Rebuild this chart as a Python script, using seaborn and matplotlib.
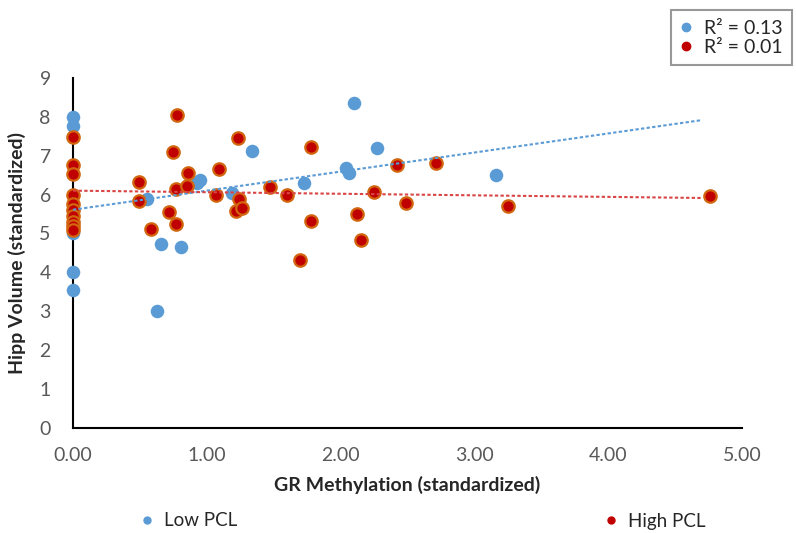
import numpy as np
import pandas as pd
import seaborn as sns
import matplotlib.pyplot as plt
from matplotlib.lines import Line2D

# values
low_x = [0, 0, 0, 0, 0, 0,
         0.55, 0.63, 0.66, 0.81, 0.93, 0.95, 1.19, 1.34, 1.73,
         2.04, 2.06, 2.10, 2.27, 3.16]
low_y = [8.0, 7.75, 5.6, 5.0, 4.0, 3.55,
         5.89, 3.01, 4.73, 4.65, 6.30, 6.38, 6.04, 7.12, 6.30,
         6.68, 6.55, 8.36, 7.20, 6.50]

high_x = [0, 0, 0, 0, 0, 0, 0, 0, 0, 0,
          0.49, 0.49, 0.58, 0.72, 0.75, 0.77, 0.77, 0.78, 0.85, 0.86,
          1.07, 1.09, 1.22, 1.23, 1.24, 1.26, 1.47, 1.60, 1.70, 1.78,
          1.78, 2.12, 2.15, 2.25, 2.42, 2.49, 2.71, 3.25, 4.76]
high_y = [7.48, 6.75, 6.52, 6.0, 5.75, 5.6, 5.45, 5.3, 5.2, 5.1,
          6.32, 5.84, 5.12, 5.55, 7.10, 6.14, 5.24, 8.05, 6.22, 6.55,
          5.99, 6.66, 5.58, 7.46, 5.89, 5.66, 6.20, 5.99, 4.32, 7.22,
          5.32, 5.50, 4.83, 6.07, 6.76, 5.78, 6.81, 5.71, 5.95]

# trendlines as shown on the chart (intercept, slope)
trend_intercept = [5.61, 6.10]
trend_slope = [0.49, -0.04]
trend_span = [0, 4.70]

group_names = ["Low PCL", "High PCL"]
r2_labels = ["R\u00b2 = 0.13", "R\u00b2 = 0.01"]
x_ticks = [0, 1, 2, 3, 4, 5]
y_ticks = list(range(10))

BLUE = "#5B9BD5"
RED = "#C00000"
RED_EDGE = "#D2660F"
RED_LINE = "#D94545"
TICK_GRAY = "#595959"
TEXT_DARK = "#262626"

df_low = pd.DataFrame({"x": low_x, "y": low_y})
df_high = pd.DataFrame({"x": high_x, "y": high_y})

sns.set_style("white")
plt.rcParams["font.family"] = ["Lato", "DejaVu Sans"]

fig = plt.figure(figsize=(7.96, 5.33), dpi=100)
ax = fig.add_axes([0.0917, 0.197, 0.8405, 0.657])

sns.scatterplot(data=df_low, x="x", y="y", ax=ax, color=BLUE, s=95,
                linewidth=0, zorder=3, clip_on=False)
sns.scatterplot(data=df_high, x="x", y="y", ax=ax, color=RED, s=80,
                edgecolor=RED_EDGE, linewidth=1.6, zorder=4, clip_on=False)

xs = np.array(trend_span)
for b, k, col in zip(trend_intercept, trend_slope, [BLUE, RED_LINE]):
    ax.plot(xs, b + k * xs, color=col, lw=1.5, ls=(0, (1.6, 1.1)), zorder=5)

ax.set_xlim(0, 5)
ax.set_ylim(0, 9)
ax.set_xticks(x_ticks)
ax.set_xticklabels([f"{t:.2f}" for t in x_ticks])
ax.set_yticks(y_ticks)
ax.tick_params(axis="both", length=0, labelsize=14, labelcolor=TICK_GRAY)
ax.tick_params(axis="x", pad=14)
ax.tick_params(axis="y", pad=16)
for sp in ["top", "right"]:
    ax.spines[sp].set_visible(False)
for sp in ["left", "bottom"]:
    ax.spines[sp].set_color("black")
    ax.spines[sp].set_linewidth(1.5)
    ax.spines[sp].set_zorder(2)

ax.set_xlabel("GR Methylation (standardized)", fontsize=14, fontweight="bold",
              color=TEXT_DARK, labelpad=8)
ax.set_ylabel("Hipp Volume (standardized)", fontsize=14, fontweight="bold",
              color=TEXT_DARK, labelpad=10)

# R² legend box, top right
r2_handles = [Line2D([], [], ls="", marker="o", ms=6, color=BLUE),
              Line2D([], [], ls="", marker="o", ms=6, color=RED)]
leg = fig.legend(r2_handles, r2_labels, loc="upper right",
                 bbox_to_anchor=(792 / 796, 1 - 10 / 533), fontsize=14,
                 frameon=True, fancybox=False, edgecolor="#7F7F7F",
                 handlelength=0.6, handletextpad=0.6, borderpad=0.5,
                 labelspacing=0.1, borderaxespad=0)
leg.get_frame().set_linewidth(1.5)
for t in leg.get_texts():
    t.set_color(TEXT_DARK)

# series legend along the bottom
for name, col, xpos in [(group_names[0], BLUE, 141), (group_names[1], RED, 605)]:
    h = Line2D([], [], ls="", marker="o", ms=5, color=col)
    lg = fig.legend([h], [name], loc="center left",
                    bbox_to_anchor=(xpos / 796, 1 - 521 / 533), fontsize=13.5,
                    frameon=False, handlelength=0.6, handletextpad=0.6,
                    borderpad=0, borderaxespad=0)
    for t in lg.get_texts():
        t.set_color(TEXT_DARK)

fig.savefig("out.png", dpi=100)
